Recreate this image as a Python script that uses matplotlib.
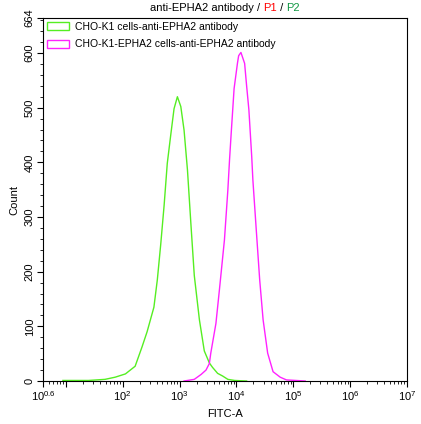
import numpy as np
import matplotlib
matplotlib.use('Agg')
import matplotlib.pyplot as plt
from matplotlib.patches import Patch
from matplotlib.ticker import FixedLocator, MultipleLocator, LogLocator, NullFormatter

plt.rcParams['font.family'] = ['Liberation Sans', 'DejaVu Sans']
plt.rcParams['mathtext.fontset'] = 'custom'
plt.rcParams['mathtext.rm'] = 'Liberation Sans'

# log10(FITC-A) and counts
green_log = [0.95, 1.40, 1.69, 1.87, 2.05, 2.22, 2.34, 2.43, 2.55, 2.61, 2.67, 2.73, 2.785,
             2.846, 2.904, 2.963, 3.023, 3.08, 3.14, 3.20, 3.26, 3.35, 3.436, 3.525, 3.58,
             3.67, 3.76, 3.85, 3.97, 4.18]
green_cnt = [1, 1, 3, 7, 13, 27, 62, 90, 135, 185, 250, 322, 398,
             450, 498, 520, 502, 459, 386, 288, 193, 112, 55, 33, 25,
             14, 9, 3, 1, 0]

mag_log = [3.08, 3.26, 3.38, 3.466, 3.525, 3.55, 3.64, 3.70, 3.79, 3.85, 3.88, 3.91,
           3.96, 4.02, 4.04, 4.08, 4.145, 4.18, 4.22, 4.27, 4.29, 4.35, 4.41, 4.47, 4.55,
           4.645, 4.77, 4.88, 5.21]
mag_cnt = [0, 3, 12, 20, 32, 51, 105, 165, 258, 349, 405, 455,
           535, 582, 595, 601, 581, 540, 496, 410, 368, 276, 185, 112, 51,
           17, 7, 2, 0]

labels = ['CHO-K1 cells-anti-EPHA2 antibody', 'CHO-K1-EPHA2 cells-anti-EPHA2 antibody']
colors = ['#55ee22', '#ff22ff']
xticks = [10**0.6, 1e2, 1e3, 1e4, 1e5, 1e6, 1e7]
xticklabels = [r'$\mathregular{10^{0.6}}$', r'$\mathregular{10^{2}}$', r'$\mathregular{10^{3}}$',
               r'$\mathregular{10^{4}}$', r'$\mathregular{10^{5}}$', r'$\mathregular{10^{6}}$',
               r'$\mathregular{10^{7}}$']
yticks = [0, 100, 200, 300, 400, 500, 600, 664]

fig = plt.figure(figsize=(4.21, 4.24), dpi=100)
ax = fig.add_axes([43/421, 1-381/424, 364/421, 363/424])

ax.plot(10**np.array(green_log), green_cnt, color=colors[0], lw=1)
ax.plot(10**np.array(mag_log), mag_cnt, color=colors[1], lw=1)

ax.set_xscale('log')
ax.set_xlim(10**0.6, 1e7)
ax.set_ylim(0, 664)
ax.xaxis.set_major_locator(FixedLocator(xticks + [10]))
ax.set_xticklabels(xticklabels + [''])
ax.xaxis.set_minor_locator(LogLocator(base=10, subs=np.arange(2, 10), numticks=20))
ax.xaxis.set_minor_formatter(NullFormatter())
ax.yaxis.set_major_locator(FixedLocator(yticks))
ax.yaxis.set_minor_locator(MultipleLocator(20))
ax.set_yticks(yticks)
ax.set_yticklabels([str(v) for v in yticks], rotation=90, va='center')
ax.tick_params(which='major', length=4, labelsize=8, pad=2)
ax.tick_params(which='minor', length=2)
ax.set_xlabel('FITC-A', fontsize=8, labelpad=4)
ax.set_ylabel('Count', fontsize=8, labelpad=4)

handles = [Patch(facecolor='white', edgecolor=c, lw=1) for c in colors]
ax.legend(handles, labels, loc='upper left', frameon=False, fontsize=7.5,
          handlelength=2.1, handleheight=0.9, borderaxespad=0.15, borderpad=0.2,
          labelspacing=0.75, handletextpad=0.65)

# multicolour title
parts = [('anti-EPHA2 antibody / ', 'black'), ('P1', 'red'), (' / ', 'black'), ('P2', '#119944')]
fs = 8
r = fig.canvas.get_renderer()
widths = []
for s, c in parts:
    t = fig.text(0, 0, s, fontsize=fs)
    widths.append(t.get_window_extent(r).width)
    t.remove()
x0 = (fig.bbox.width * (43 + 407) / 2 / 421) - sum(widths) / 2
for (s, c), w in zip(parts, widths):
    fig.text(x0 / fig.bbox.width, 1 - 8/424, s, color=c, fontsize=fs, va='center')
    x0 += w

fig.savefig('out.png', dpi=100)
